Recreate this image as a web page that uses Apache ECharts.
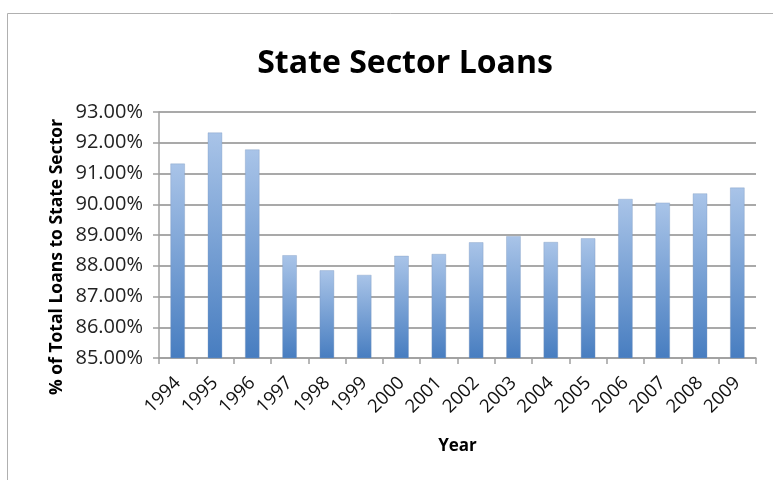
<!DOCTYPE html>
<html><head><meta charset="utf-8">
<script src="https://cdn.jsdelivr.net/npm/echarts@6/dist/echarts.min.js"></script>
<style>html,body{margin:0;padding:0;background:#fff}#c{width:773px;height:480px}</style>
</head><body><div id="c"></div>
<script>
const years = ['1994','1995','1996','1997','1998','1999','2000','2001','2002','2003','2004','2005','2006','2007','2008','2009'];
const loanShare = [91.33, 92.34, 91.79, 88.35, 87.86, 87.71, 88.33, 88.39, 88.77, 88.97, 88.78, 88.90, 90.18, 90.06, 90.36, 90.55];
const yMin = 85, yMax = 93, yStep = 1;
const titleText = 'State Sector Loans';
const yName = '% of Total Loans to State Sector';
const xName = 'Year';

const chart = echarts.init(document.getElementById('c'), null, {renderer: 'canvas'});
const font = 'Open Sans';
chart.setOption({
  animation: false,
  backgroundColor: '#fff',
  title: {
    text: titleText, left: 400, top: 43, textAlign: 'center',
    textStyle: {fontFamily: font, fontWeight: 'bold', fontSize: 32, color: '#000'}
  },
  graphic: [{
    type: 'rect', shape: {x: 7.5, y: 13.5, width: 800, height: 500},
    style: {fill: 'none', stroke: '#b0b0b0', lineWidth: 1}, silent: true
  }, {
    type: 'text', x: 57, y: 257, rotation: Math.PI / 2,
    style: {text: yName, fontFamily: font, fontWeight: 'bold', fontSize: 17.5, fill: '#000',
      align: 'center', verticalAlign: 'middle'}, silent: true
  }],
  grid: {left: 159, right: 17, top: 112, bottom: 122},
  xAxis: {
    type: 'category', data: years,
    name: xName, nameLocation: 'middle', nameGap: 80,
    nameTextStyle: {fontFamily: font, fontWeight: 'bold', fontSize: 17, color: '#000'},
    axisLine: {lineStyle: {color: '#a0a0a0', width: 1.5}},
    axisTick: {show: true, length: 6, alignWithLabel: false, lineStyle: {color: '#a0a0a0', width: 1.5}},
    axisLabel: {rotate: 45, fontFamily: font, fontSize: 18.5, color: '#111', margin: 22, interval: 0}
  },
  yAxis: {
    type: 'value', min: yMin, max: yMax, interval: yStep,
    axisLine: {show: true, lineStyle: {color: '#a0a0a0', width: 1.5}},
    axisTick: {show: true, length: 6, lineStyle: {color: '#a0a0a0', width: 1.5}},
    axisLabel: {fontFamily: font, fontSize: 20, color: '#222', margin: 16,
      formatter: v => v.toFixed(2) + '%'},
    splitLine: {lineStyle: {color: '#8c8c8c', width: 1.5}}
  },
  series: [{
    type: 'bar', data: loanShare, barWidth: '40%',
    itemStyle: {
      color: new echarts.graphic.LinearGradient(0, 0, 0, 1, [
        {offset: 0, color: '#a9c4e8'}, {offset: 1, color: '#477dc0'}
      ]),
      borderColor: 'rgba(120,150,190,0.35)', borderWidth: 1
    }
  }]
});
</script></body></html>
